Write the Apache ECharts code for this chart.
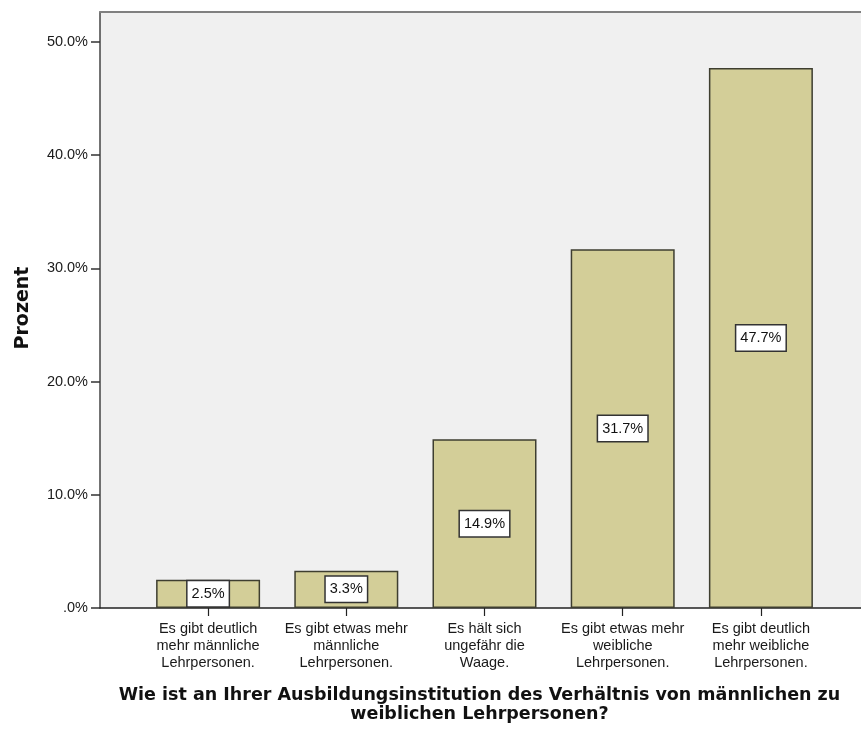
<!DOCTYPE html>
<html><head><meta charset="utf-8">
<script src="https://cdn.jsdelivr.net/npm/echarts@6/dist/echarts.min.js"></script>
<style>html,body{margin:0;padding:0;background:#fff}#c{width:861px;height:729px}</style>
</head><body><div id="c"></div>
<script>
const categories = [
  "Es gibt deutlich\nmehr männliche\nLehrpersonen.",
  "Es gibt etwas mehr\nmännliche\nLehrpersonen.",
  "Es hält sich\nungefähr die\nWaage.",
  "Es gibt etwas mehr\nweibliche\nLehrpersonen.",
  "Es gibt deutlich\nmehr weibliche\nLehrpersonen."
];
const percentValues = [2.5, 3.3, 14.9, 31.7, 47.7];
const yTicks = [0, 10, 20, 30, 40, 50];
const xTitle = "Wie ist an Ihrer Ausbildungsinstitution des Verhältnis von männlichen zu\nweiblichen Lehrpersonen?";
const yTitle = "Prozent";

const chart = echarts.init(document.getElementById('c'), null, {renderer: 'canvas'});
const font = 'Arial, "Liberation Sans", sans-serif';
const boldFont = 'Tahoma, "DejaVu Sans", sans-serif';
const yMax = 52.65;
chart.setOption({
  animation: false,
  backgroundColor: '#ffffff',
  grid: [
    {left: 100, top: 12, width: 769, height: 596, show: true, backgroundColor: '#f0f0f0', borderWidth: 0, containLabel: false, outerBoundsMode: 'none'},
    {left: 139, top: 12, width: 691, height: 596, containLabel: false, outerBoundsMode: 'none'}
  ],
  xAxis: [
    {gridIndex: 0, type: 'value', min: 0, max: 1, show: true,
      axisLine: {show: true, onZero: false, lineStyle: {color: '#222', width: 1.5}},
      axisTick: {show: false}, axisLabel: {show: false}, splitLine: {show: false}},
    {gridIndex: 0, type: 'value', min: 0, max: 1, position: 'top', show: true,
      axisLine: {show: true, onZero: false, lineStyle: {color: '#808080', width: 2}},
      axisTick: {show: false}, axisLabel: {show: false}, splitLine: {show: false}},
    {gridIndex: 1, type: 'category', data: categories,
      axisLine: {show: false},
      axisTick: {show: true, alignWithLabel: true, length: 8, lineStyle: {color: '#222', width: 1.2}},
      axisLabel: {interval: 0, margin: 12, color: '#1a1a1a', fontSize: 14.5, fontFamily: font, lineHeight: 17, align: 'center'},
      name: xTitle, nameLocation: 'middle', nameGap: 78,
      nameTextStyle: {fontFamily: boldFont, fontWeight: 'bold', fontSize: 17.5, color: '#111', lineHeight: 19, align: 'center', padding: [0, 10, 0, 0]}
    }
  ],
  yAxis: [
    {gridIndex: 0, type: 'value', min: 0, max: 1, show: true,
      axisLine: {show: true, lineStyle: {color: '#444', width: 1.5}},
      axisTick: {show: false}, axisLabel: {show: false}, splitLine: {show: false}},
    {gridIndex: 1, type: 'value', min: 0, max: yMax, interval: 10, offset: 39,
      axisLine: {show: false},
      axisTick: {show: true, length: 9, lineStyle: {color: '#333', width: 1.5}},
      axisLabel: {margin: 12, color: '#1a1a1a', fontSize: 14.5, fontFamily: font, showMaxLabel: false,
        formatter: v => yTicks.includes(v) ? (v === 0 ? '.0%' : v.toFixed(1) + '%') : ''},
      splitLine: {show: false},
      name: yTitle, nameLocation: 'middle', nameGap: 67, nameRotate: 90,
      nameTextStyle: {fontFamily: boldFont, fontWeight: 'bold', fontSize: 19, color: '#111', padding: [0, 0, 0, 4]}
    }
  ],
  series: [{
    type: 'bar', xAxisIndex: 2, yAxisIndex: 1,
    data: percentValues, barWidth: 104,
    itemStyle: {color: '#d3ce98', borderColor: '#3e3e30', borderWidth: 1.5},
    label: {show: true, position: 'inside', formatter: p => p.value.toFixed(1) + '%',
      color: '#111', fontSize: 14.5, fontFamily: font,
      backgroundColor: '#ffffff', borderColor: '#333', borderWidth: 1.5,
      padding: [5, 4, 4, 4], lineHeight: 16}
  }]
});
</script></body></html>
